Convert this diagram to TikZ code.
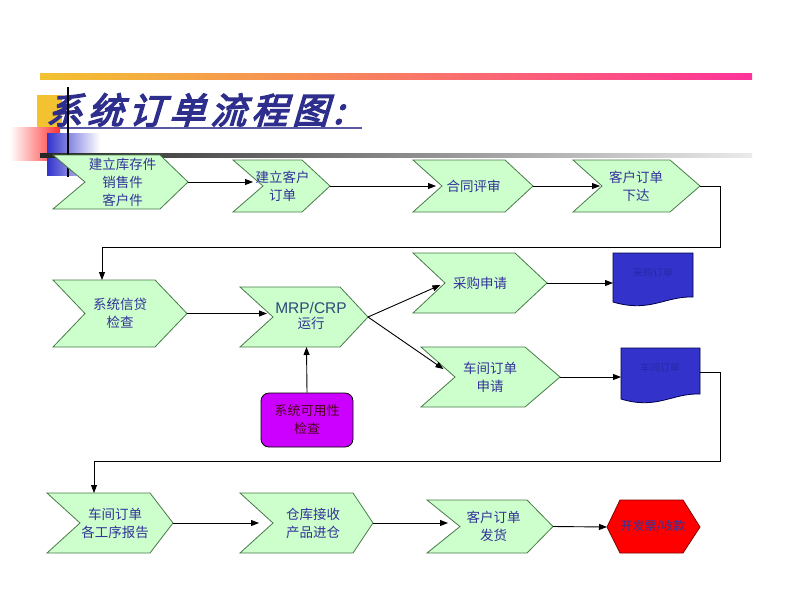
\documentclass[tikz,border=0pt]{standalone}
\usepackage{fontspec}
\newfontfamily\cjk{Noto Sans CJK SC}
\newfontfamily\cjktitle[FakeSlant=0.3,FakeBold=4]{Noto Sans CJK SC}
\newfontfamily\arialf{Liberation Sans}
\usetikzlibrary{arrows.meta}
\definecolor{chevfill}{HTML}{CCFFCC}
\definecolor{chevline}{HTML}{4A7A4A}
\definecolor{txtblue}{HTML}{333399}
\definecolor{titleblue}{HTML}{2E2E8C}
\definecolor{docblue}{HTML}{3333CC}
\definecolor{doctext}{HTML}{2828A8}
\definecolor{purp}{HTML}{CC00FF}
\definecolor{gold}{HTML}{F2C230}
\definecolor{hotpink}{HTML}{FF3399}
\definecolor{mrpblue}{HTML}{2F4A7A}
\tikzset{
  chevron/.style={fill=chevfill,draw=chevline,line width=0.8pt},
  boxtext/.style={align=center,font=\cjk\fontsize{13.5}{18}\selectfont,text=txtblue,inner sep=0pt},
  arr/.style={draw=black,line width=0.9pt,-{Triangle[length=8pt,width=6pt]}},
  conn/.style={draw=black,line width=0.9pt}
}
% name, left x, top-right x, tip x, notch x, top y, bottom y, text
\newcommand\chev[8]{%
  \path[chevron] (#2,#6) -- (#3,#6) -- (#4,{(#6+#7)/2}) -- (#3,#7) -- (#2,#7) -- (#5,{(#6+#7)/2}) -- cycle;
  \coordinate (#1-tip) at (#4,{(#6+#7)/2});
  \coordinate (#1-notch) at (#5,{(#6+#7)/2});
  \coordinate (#1-tl) at (#2,#6);
  \coordinate (#1-bc) at ({(#5+#3)/2},#7);
  \node[boxtext] (#1) at ({(#5+#3)/2},{(#6+#7)/2}) {#8};
}
\newcommand\tsp{\hspace{5pt}}
\begin{document}
\begin{tikzpicture}[x=1pt,y=-1pt]
\fill[white] (0,0) rectangle (800,600);
\useasboundingbox (0,0) rectangle (800,600);
% header decorations
\shade[left color=gold,middle color=white,right color=hotpink] (40,73) rectangle (752,79);
\fill[gold] (37,95) rectangle (62,127);
\shade[left color=white,right color=red!80] (10,127) rectangle (60,160);
\shade[left color=docblue,right color=white] (47,133) rectangle (100,175);
\node[anchor=west,font=\cjktitle\fontsize{36}{40}\selectfont,text=titleblue,inner sep=0pt] (title) at (46,110) {系\tsp 统\tsp 订\tsp 单\tsp 流\tsp 程\tsp 图\tsp :};
\draw[titleblue!80,line width=1.2pt] (60,128) -- (362,128);
\shade[left color=black!85,right color=black!8] (40,153) rectangle (752,157);
\draw[black,line width=1.2pt] (68,87) -- (68,177);
% row 1
\chev{b1}{53}{160}{188}{85}{155}{209}{建立库存件\\销售件\\客户件}
\chev{b2}{233}{302}{330}{263}{160}{212}{建立客户\\订单}
\chev{b3}{413}{505}{533}{442}{160}{212}{合同评审}
\chev{b4}{573}{670}{700}{602}{160}{212}{客户订单\\下达}
\draw[arr,shorten >=10pt] (b1-tip) -- (b1-tip -| b2-notch);
\draw[arr,shorten >=6pt] (b2-tip) -- (b2-tip -| b3-notch);
\draw[arr,shorten >=2pt] (b3-tip) -- (b3-tip -| b4-notch);
% row 2
\chev{b5}{53}{155}{187}{85}{280}{347}{系统信贷\\检查}
\chev{b6}{240}{340}{368}{273}{287}{347}{}
\node[align=center,inner sep=0pt] (b6t) at (311,316) {{\arialf\fontsize{15.5}{20}\selectfont\color{mrpblue}MRP/CRP}\\[3pt]{\cjk\fontsize{13.5}{18}\selectfont\color{txtblue}运行}};
\chev{b7}{413}{515}{547}{445}{253}{313}{采购申请}
\chev{b8}{421}{525}{560}{455}{347}{407}{车间订单\\申请}
\coordinate (c1) at (720,247);
\coordinate (c2) at (102,247);
\draw[arr] (b4-tip) -| (c1) -- (c2) -- (c2 |- b5-tl);
\draw[arr,shorten >=6pt] (b5-tip) -- (b5-tip -| b6-notch);
\draw[arr,shorten >=5pt] (b6-tip) -- (b7-notch);
\draw[arr,shorten >=14pt] (b6-tip) -- (b8-notch);
% documents
\path[fill=docblue,draw=black!70!blue,line width=0.8pt] (613,253) -- (693,253) -- (693,297) .. controls (665,296) and (650,313) .. (613,302) -- cycle;
\coordinate (d1-left) at (613,280);
\node[font=\cjk\fontsize{10}{12}\selectfont,text=doctext] (d1) at (653,273) {采购订单};
\path[fill=docblue,draw=black!70!blue,line width=0.8pt] (621,348) -- (700,348) -- (700,394) .. controls (672,393) and (657,410) .. (621,399) -- cycle;
\coordinate (d2-left) at (621,374);
\coordinate (d2-right) at (700,372);
\node[font=\cjk\fontsize{10}{12}\selectfont,text=doctext] (d2) at (660,368) {车间订单};
\draw[arr] (b7-tip) -- (b7-tip -| d1-left);
\draw[arr] (b8-tip) -- (b8-tip -| d2-left);
% availability check
\node[draw=black,fill=purp,rounded corners=8pt,line width=0.8pt,minimum width=92pt,minimum height=54pt,align=center,font=\cjk\fontsize{13}{18}\selectfont,text=black!60!purple] (avail) at (307,420) {系统可用性\\检查};
\draw[arr] (avail.north) -- (b6-bc);
% row 3
\chev{b9}{47}{150}{173}{80}{493}{553}{车间订单\\各工序报告}
\chev{b10}{240}{353}{373}{273}{493}{553}{仓库接收\\产品进仓}
\chev{b11}{427}{527}{553}{460}{500}{553}{客户订单\\发货}
\coordinate (c3) at (720,461);
\coordinate (c4) at (94,461);
\draw[arr] (d2-right) -| (c3) -- (c4) -- (c4 |- b9-tl);
\draw[arr,shorten >=14pt] (b9-tip) -- (b9-tip -| b10-notch);
\draw[arr,shorten >=12pt] (b10-tip) -- (b10-tip -| b11-notch);
% hexagon
\path[fill=red,draw=red!50!black,line width=0.8pt] (607,527) -- (620,500) -- (683,500) -- (700,527) -- (683,553) -- (620,553) -- cycle;
\coordinate (h-left) at (607,527);
\node[font=\cjk\fontsize{12}{14}\selectfont,text=txtblue,inner sep=0pt] (hex) at (653,527) {开发票/收款};
\draw[arr] (b11-tip) -- (h-left);
\end{tikzpicture}
\end{document}
